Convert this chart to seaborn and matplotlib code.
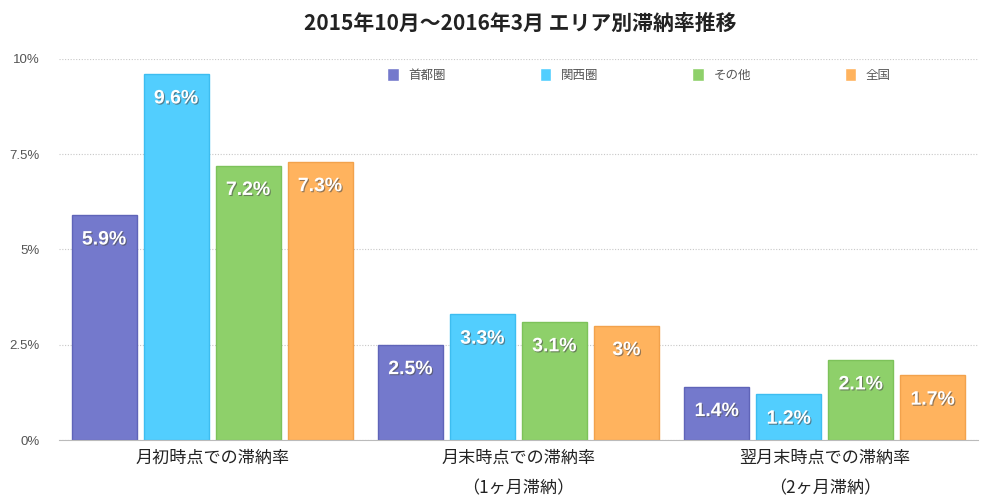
import matplotlib
matplotlib.use("Agg")
import matplotlib.pyplot as plt
import matplotlib.patheffects as pe
import pandas as pd
import seaborn as sns

categories = [
    "月初時点での滞納率",
    "月末時点での滞納率\n（1ヶ月滞納）",
    "翌月末時点での滞納率\n（2ヶ月滞納）",
]
areas = ["首都圏", "関西圏", "その他", "全国"]
shutoken = [5.9, 2.5, 1.4]
kansai = [9.6, 3.3, 1.2]
sonota = [7.2, 3.1, 2.1]
zenkoku = [7.3, 3.0, 1.7]
yticks = [0, 2.5, 5, 7.5, 10]
ytick_labels = ["0%", "2.5%", "5%", "7.5%", "10%"]

colors = ["#7479CC", "#52CEFE", "#8ED06A", "#FFB35E"]
edges = ["#5F64B8", "#3DBDF0", "#7DC25A", "#F2A24C"]

rows = []
for area, vals in zip(areas, [shutoken, kansai, sonota, zenkoku]):
    for cat, v in zip(categories, vals):
        rows.append({"cat": cat, "area": area, "value": v})
df = pd.DataFrame(rows)

sns.set_style("white")
plt.rcParams['font.family'] = ['Noto Sans CJK JP', 'DejaVu Sans']

fig = plt.figure(figsize=(10, 5.03), dpi=100)
ax = fig.add_axes([0.059, 0.125, 0.919, 0.758])

sns.barplot(data=df, x="cat", y="value", hue="area", hue_order=areas,
            order=categories, palette=colors, width=0.94, gap=0.1,
            saturation=1, ax=ax, legend=True)

# darker bar outlines + value labels
for cont, ec in zip(ax.containers, edges):
    for bar in cont:
        bar.set_edgecolor(ec)
        bar.set_linewidth(1)
    labels = [f"{v:g}%" for v in cont.datavalues]
    txts = ax.bar_label(cont, labels=labels, padding=-24, color="white",
                        fontsize=14, fontweight="bold",
                        family=["Liberation Sans", "DejaVu Sans"])
    for t in txts:
        t.set_path_effects([pe.SimplePatchShadow(offset=(0.8, -0.8), alpha=0.6),
                            pe.Normal()])

ax.set_xlim(-0.5, 2.5)
ax.set_ylim(0, 10)
ax.set_yticks(yticks)
ax.set_yticklabels(ytick_labels, fontsize=9.5, color="#555555",
                   family=["Liberation Sans", "DejaVu Sans"])
ax.tick_params(axis="y", length=0, pad=14)
ax.tick_params(axis="x", length=0, pad=6, labelsize=12.3, colors="#222222")
for lbl in ax.get_xticklabels():
    lbl.set_linespacing(1.9)
    lbl.set_verticalalignment("top")
ax.yaxis.grid(True, color="#C8C8C8", linestyle=(0, (1, 1.5)), linewidth=0.8)
ax.set_axisbelow(True)
ax.set_xlabel("")
ax.set_ylabel("")
for s in ["left", "right", "top"]:
    ax.spines[s].set_visible(False)
ax.spines["bottom"].set_color("#BBBBBB")

ax.legend(loc="center left", bbox_to_anchor=(0.376, 0.851),
          bbox_transform=fig.transFigure, ncol=4, frameon=False,
          fontsize=9, handlelength=0.9, handleheight=1.2,
          handletextpad=0.8, columnspacing=7.5, labelcolor="#555555")

fig.suptitle("2015年10月～2016年3月 エリア別滞納率推移", x=0.52, y=0.975,
             fontsize=15, fontweight="bold", color="#222222")

fig.savefig("out.png", dpi=100)
